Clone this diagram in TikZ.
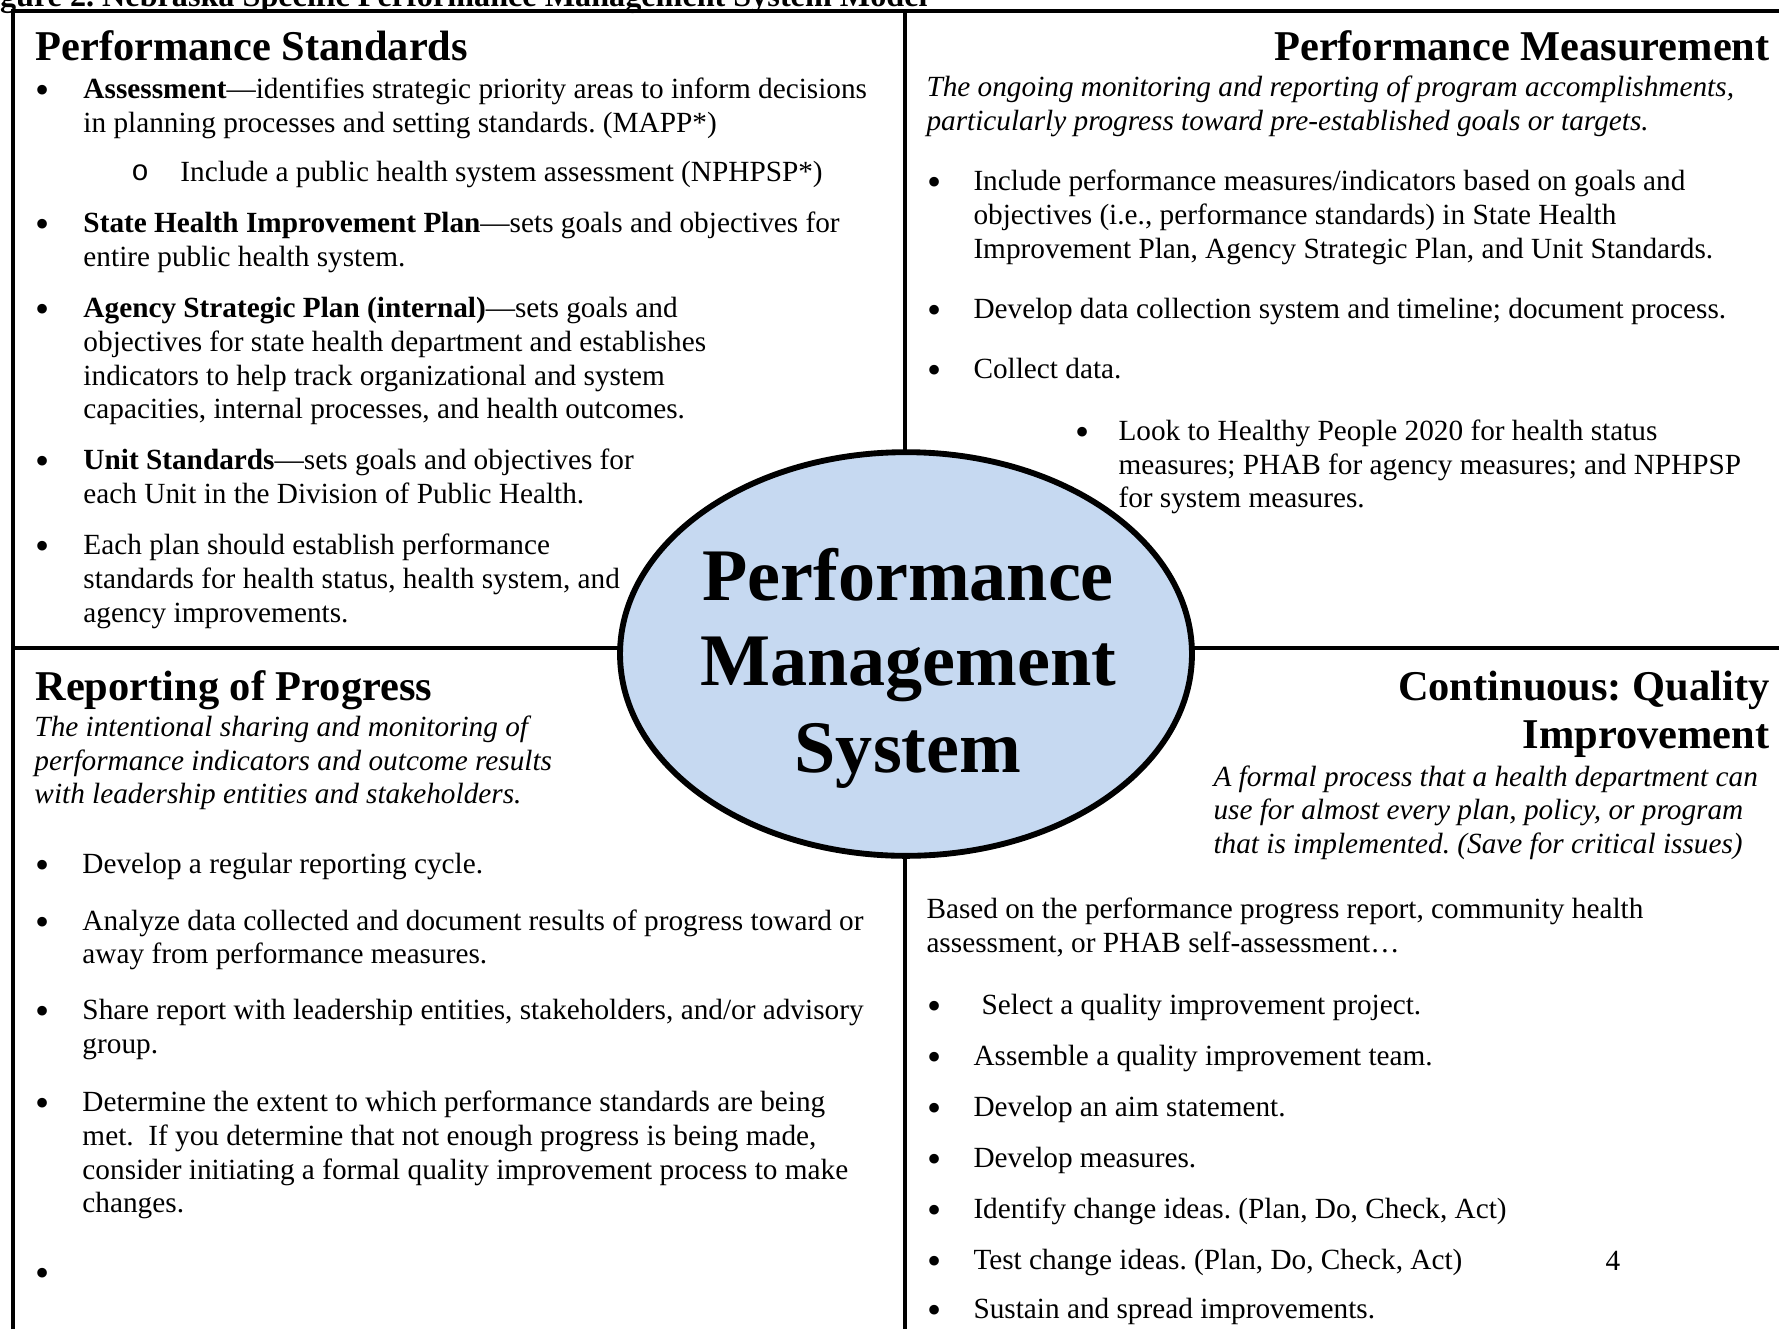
\documentclass[tikz,border=0pt]{standalone}
\usepackage{fontspec}
\setmainfont{Liberation Serif}
\setmonofont{Liberation Mono}
\usetikzlibrary{shapes.geometric}
\definecolor{pmsblue}{HTML}{C6D9F1}
\newcounter{lnc}
\newcommand\tl[4][txt]{\stepcounter{lnc}\node[#1] (l\arabic{lnc}) at (#2,#3) {#4};}
\newcommand\bl[2]{\stepcounter{lnc}\node[bul] (l\arabic{lnc}) at (#1-6.5,#2+5) {•};}
\begin{document}
\frenchspacing
\begin{tikzpicture}[x=0.41pt,y=-0.41pt,
  txt/.style={anchor=base west,inner sep=0pt,font=\fontsize{12}{14}\selectfont},
  bul/.style={anchor=base west,inner sep=0pt,font=\fontsize{16.5}{18}\selectfont},
  sub/.style={anchor=base west,inner sep=0pt,font=\fontsize{12}{14}\selectfont\ttfamily},
  itx/.style={txt,font=\fontsize{12}{14}\selectfont\itshape},
  head/.style={anchor=base west,inner sep=0pt,font=\fontsize{17.4}{20}\selectfont\bfseries},
  headr/.style={head,anchor=base east},
  core/.style={anchor=base,inner sep=0pt,font=\fontsize{30.4}{34}\selectfont\bfseries},
  frame/.style={line width=1.45pt}]
\useasboundingbox (0,0) rectangle (1779,1329);
% frame
\coordinate (bl) at (13,1329);
\coordinate (tlc) at (13,11);
\coordinate (tr) at (1779,11);
\coordinate (mt) at (905,11);
\coordinate (mb) at (905,1329);
\coordinate (ml) at (13,648);
\coordinate (mr) at (1779,648);
\draw[frame] (bl) -- (tlc) -- (tr);
\draw[frame] (mt) -- (mb);
\draw[frame] (ml) -- (mr);
% caption (cut off at the top)
\node[anchor=base east,inner sep=0pt,font=\fontsize{13.2}{15}\selectfont\bfseries] (cap) at (928,6) {gure 2. Nebraska Specific Performance Management System Model};
% central ellipse
\node[ellipse,draw,line width=2.4pt,fill=pmsblue,minimum width=234.5pt,minimum height=165.5pt,inner sep=0pt] (pms) at (906,654) {};
\node[core] (c1) at (908,600) {Performance};
\node[core] (c2) at (908,685) {Management};
\node[core] (c3) at (908,772) {System};
% top left
\tl[head]{35}{60}{Performance Standards}
\bl{42}{98}\tl{83}{98}{\textbf{Assessment}—identifies strategic priority areas to inform decisions}
\tl{83}{132}{in planning processes and setting standards. (MAPP*)}
\tl[sub]{131}{180}{o}\tl{180}{181}{Include a public health system assessment (NPHPSP*)}
\bl{42}{232}\tl{83}{232}{\textbf{State Health Improvement Plan}—sets goals and objectives for}
\tl{83}{266}{entire public health system.}
\bl{42}{317}\tl{83}{317}{\textbf{Agency Strategic Plan (internal)}—sets goals and}
\tl{83}{351}{objectives for state health department and establishes}
\tl{83}{385}{indicators to help track organizational and system}
\tl{83}{418}{capacities, internal processes, and health outcomes.}
\bl{42}{469}\tl{83}{469}{\textbf{Unit Standards}—sets goals and objectives for}
\tl{83}{503}{each Unit in the Division of Public Health.}
\bl{42}{554}\tl{83}{554}{Each plan should establish performance}
\tl{83}{588}{standards for health status, health system, and}
\tl{83}{622}{agency improvements.}
% top right
\tl[headr]{1770}{60}{Performance Measurement}
\tl[itx]{926}{96}{The ongoing monitoring and reporting of program accomplishments,}
\tl[itx]{926}{130}{particularly progress toward pre-established goals or targets.}
\bl{933}{190}\tl{973}{190}{Include performance measures/indicators based on goals and}
\tl{973}{224}{objectives (i.e., performance standards) in State Health}
\tl{973}{258}{Improvement Plan, Agency Strategic Plan, and Unit Standards.}
\bl{933}{318}\tl{973}{318}{Develop data collection system and timeline; document process.}
\bl{933}{378}\tl{973}{378}{Collect data.}
\bl{1081}{440}\tl{1118}{440}{Look to Healthy People 2020 for health status}
\tl{1118}{474}{measures; PHAB for agency measures; and NPHPSP}
\tl{1118}{507}{for system measures.}
% bottom left
\tl[head]{35}{700}{Reporting of Progress}
\tl[itx]{34}{736}{The intentional sharing and monitoring of}
\tl[itx]{34}{770}{performance indicators and outcome results}
\tl[itx]{34}{803}{with leadership entities and stakeholders.}
\bl{42}{873}\tl{82}{873}{Develop a regular reporting cycle.}
\bl{42}{930}\tl{82}{930}{Analyze data collected and document results of progress toward or}
\tl{82}{963}{away from performance measures.}
\bl{42}{1019}\tl{82}{1019}{Share report with leadership entities, stakeholders, and/or advisory}
\tl{82}{1053}{group.}
\bl{42}{1111}\tl{82}{1111}{Determine the extent to which performance standards are being}
\tl{82}{1145}{met.\ \ If you determine that not enough progress is being made,}
\tl{82}{1179}{consider initiating a formal quality improvement process to make}
\tl{82}{1212}{changes.}
\bl{42}{1281}
% bottom right
\tl[headr]{1770}{700}{Continuous: Quality}
\tl[headr]{1770}{748}{Improvement}
\tl[itx]{1213}{786}{A formal process that a health department can}
\tl[itx]{1213}{819}{use for almost every plan, policy, or program}
\tl[itx]{1213}{853}{that is implemented. (Save for critical issues)}
\tl{926}{918}{Based on the performance progress report, community health}
\tl{926}{952}{assessment, or PHAB self-assessment…}
\bl{933}{1014}\tl{981}{1014}{Select a quality improvement project.}
\bl{933}{1065}\tl{973}{1065}{Assemble a quality improvement team.}
\bl{933}{1116}\tl{973}{1116}{Develop an aim statement.}
\bl{933}{1167}\tl{973}{1167}{Develop measures.}
\bl{933}{1218}\tl{973}{1218}{Identify change ideas. (Plan, Do, Check, Act)}
\bl{933}{1269}\tl{973}{1269}{Test change ideas. (Plan, Do, Check, Act)}
\bl{933}{1318}\tl{973}{1318}{Sustain and spread improvements.}
\node[anchor=base,inner sep=0pt,font=\fontsize{12}{14}\selectfont] (pg) at (1613,1270) {4};
\end{tikzpicture}
\end{document}
